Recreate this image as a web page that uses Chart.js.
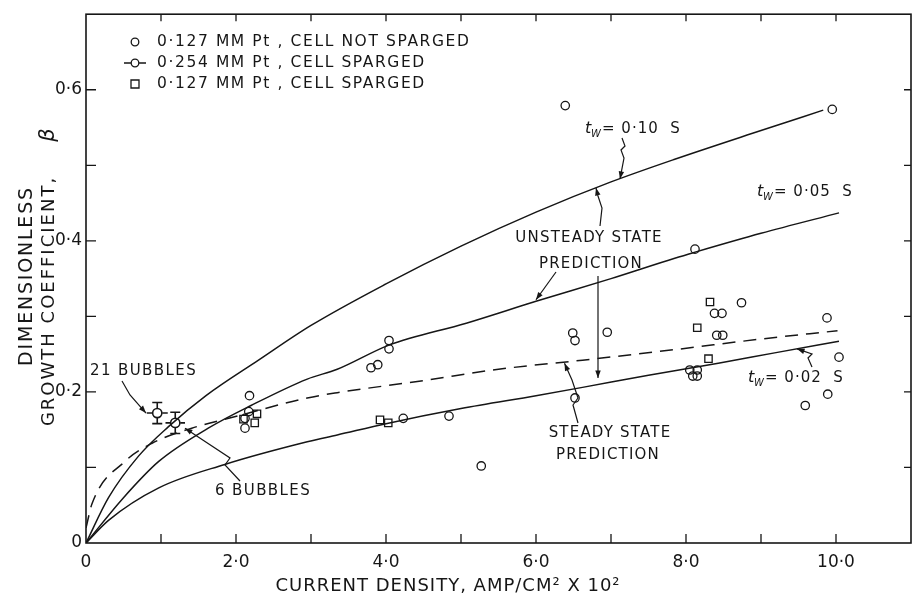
<!DOCTYPE html>
<html lang="en">
<head>
<meta charset="UTF-8">
<title>Growth coefficient vs current density</title>
<script src="https://cdn.jsdelivr.net/npm/chart.js"></script>
<style>
  html, body { margin: 0; padding: 0; background: #fff; }
</style>
</head>
<body>
<canvas id="grafico" width="920" height="600"></canvas>
<script>
// ---- measured points ----
// 0.127 mm Pt, cell not sparged (open circles)
const notSpargedX = [2.18, 2.12, 2.12, 2.17, 3.80, 3.89, 4.04, 4.04, 4.23, 4.84, 5.27,
                     6.39, 6.52, 6.49, 6.52, 6.95, 8.12, 8.05, 8.15, 8.09, 8.15,
                     8.38, 8.48, 8.41, 8.49, 8.74, 9.88, 10.04, 9.89, 9.59, 9.95];
const notSpargedY = [0.195, 0.165, 0.152, 0.174, 0.232, 0.236, 0.268, 0.257, 0.165, 0.168, 0.102,
                     0.579, 0.192, 0.278, 0.268, 0.279, 0.389, 0.229, 0.229, 0.221, 0.221,
                     0.304, 0.304, 0.275, 0.275, 0.318, 0.298, 0.246, 0.197, 0.182, 0.574];

// 0.254 mm Pt, cell sparged (circles with error bars)
const bubblesX    = [0.95, 1.19];
const bubblesY    = [0.172, 0.159];
const bubblesErrX = [0.14, 0.13];
const bubblesErrY = [0.014, 0.014];

// 0.127 mm Pt, cell sparged (open squares)
const spargedX = [2.10, 2.28, 2.25, 3.92, 4.03, 8.32, 8.15, 8.30];
const spargedY = [0.164, 0.171, 0.159, 0.163, 0.159, 0.319, 0.285, 0.244];

// ---- prediction curves ----
const curve10X = [0, 0.3, 0.7, 1.1, 1.6, 2.3, 3.0, 4.0, 5.0, 6.0, 7.0, 7.85, 9.0, 9.83];
const curve10Y = [0, 0.06, 0.115, 0.154, 0.195, 0.242, 0.288, 0.343, 0.393, 0.438, 0.478, 0.508, 0.546, 0.573];

const curve05X = [0, 0.5, 0.97, 1.63, 2.2, 2.95, 3.35, 4.04, 5.07, 6.0, 7.0, 7.85, 8.12, 9.0, 10.04];
const curve05Y = [0, 0.06, 0.108, 0.152, 0.182, 0.217, 0.23, 0.262, 0.291, 0.32, 0.35, 0.377, 0.385, 0.41, 0.437];

const curve02X = [0, 0.3, 0.97, 1.85, 2.95, 3.35, 4.0, 5.0, 6.0, 6.62, 7.5, 8.43, 9.2, 10.04];
const curve02Y = [0, 0.03, 0.073, 0.104, 0.134, 0.143, 0.158, 0.178, 0.195, 0.206, 0.222, 0.238, 0.252, 0.267];

const steadyX = [0, 0.08, 0.52, 0.88, 1.41, 1.98, 2.95, 3.35, 4.5, 5.5, 6.62, 7.85, 9.0, 10.02];
const steadyY = [0.02, 0.052, 0.108, 0.132, 0.152, 0.167, 0.192, 0.199, 0.215, 0.23, 0.242, 0.256, 0.27, 0.281];

// ---- axes ----
const xTickValues = [0, 2, 4, 6, 8, 10];
const xTickText   = ['0', '2·0', '4·0', '6·0', '8·0', '10·0'];
const yTickValues = [0, 0.2, 0.4, 0.6];
const yTickText   = ['0', '0·2', '0·4', '0·6'];

const INK = '#161616';
const FONT = '"DejaVu Sans", sans-serif';

const pts = (xs, ys) => xs.map((x, i) => ({ x: x, y: ys[i] }));

function curve(xs, ys, dash) {
  return {
    data: pts(xs, ys), showLine: true, pointRadius: 0, borderColor: INK,
    borderWidth: 1.5, borderDash: dash || [], cubicInterpolationMode: 'monotone', fill: false
  };
}

function labelFor(values, texts) {
  return v => {
    const i = values.findIndex(t => Math.abs(t - v) < 1e-6);
    return i >= 0 ? texts[i] : '';
  };
}

// text with letter spacing
function spaced(ctx, text, x, y, sp) {
  ctx.letterSpacing = (sp || 0) + 'px';
  ctx.fillText(text, x, y);
  ctx.letterSpacing = '0px';
}

function arrowHead(ctx, x, y, ang, size) {
  ctx.beginPath();
  ctx.moveTo(x, y);
  ctx.lineTo(x - size * Math.cos(ang - 0.35), y - size * Math.sin(ang - 0.35));
  ctx.lineTo(x - size * Math.cos(ang + 0.35), y - size * Math.sin(ang + 0.35));
  ctx.closePath();
  ctx.fill();
}

// t_W = value S
function twLabel(ctx, x, y, value) {
  ctx.font = 'italic 16px ' + FONT;
  ctx.fillText('t', x, y);
  ctx.font = 'italic 10px ' + FONT;
  ctx.fillText('W', x + 6, y + 4);
  ctx.font = '15px ' + FONT;
  spaced(ctx, '= ' + value + '  S', x + 17, y, 1);
}

// frame, inward ticks, error bars, titles and notes
const decorations = {
  id: 'decorations',
  afterDatasetsDraw(chart) {
    const { ctx, chartArea: a, scales: { x, y } } = chart;
    const X = v => x.getPixelForValue(v);
    const Y = v => y.getPixelForValue(v);
    ctx.save();
    ctx.strokeStyle = INK;
    ctx.fillStyle = INK;

    // frame
    ctx.lineWidth = 1.6;
    ctx.strokeRect(a.left, a.top, a.right - a.left, a.bottom - a.top);

    // inward ticks
    ctx.lineWidth = 1.3;
    ctx.beginPath();
    for (let v = 1; v <= 10; v++) {
      ctx.moveTo(X(v), a.bottom); ctx.lineTo(X(v), a.bottom - 9);
      ctx.moveTo(X(v), a.top);    ctx.lineTo(X(v), a.top + 7);
    }
    for (let k = 1; k <= 6; k++) {
      const v = k / 10;
      ctx.moveTo(a.left, Y(v));  ctx.lineTo(a.left + 10, Y(v));
      ctx.moveTo(a.right, Y(v)); ctx.lineTo(a.right - 7, Y(v));
    }
    ctx.stroke();

    // error bars
    ctx.lineWidth = 1.6;
    bubblesX.forEach((bx, i) => {
      const by = bubblesY[i];
      const cx = X(bx), cy = Y(by);
      const x0 = X(bx - bubblesErrX[i]), x1 = X(bx + bubblesErrX[i]);
      const y0 = Y(by - bubblesErrY[i]), y1 = Y(by + bubblesErrY[i]);
      ctx.beginPath();
      ctx.moveTo(x0, cy); ctx.lineTo(cx - 5, cy);
      ctx.moveTo(cx + 5, cy); ctx.lineTo(x1, cy);
      ctx.moveTo(cx, y1); ctx.lineTo(cx, cy - 5);
      ctx.moveTo(cx, cy + 5); ctx.lineTo(cx, y0);
      ctx.moveTo(cx - 5, y1); ctx.lineTo(cx + 5, y1);
      ctx.moveTo(cx - 5, y0); ctx.lineTo(cx + 5, y0);
      ctx.stroke();
    });

    // legend
    ctx.font = '15.5px ' + FONT;
    ctx.textBaseline = 'middle';
    ctx.lineWidth = 1.3;
    const legendRows = [
      ['circle', '0·127 MM Pt , CELL NOT SPARGED'],
      ['bar',    '0·254 MM Pt , CELL SPARGED'],
      ['square', '0·127 MM Pt , CELL SPARGED']
    ];
    legendRows.forEach((row, i) => {
      const ly = 42 + i * 21, lx = 135;
      ctx.beginPath();
      if (row[0] === 'square') ctx.rect(lx - 4, ly - 4, 8, 8);
      else ctx.arc(lx, ly, 3.8, 0, Math.PI * 2);
      if (row[0] === 'bar') {
        ctx.moveTo(lx - 11, ly); ctx.lineTo(lx - 4, ly);
        ctx.moveTo(lx + 4, ly); ctx.lineTo(lx + 11, ly);
      }
      ctx.stroke();
      spaced(ctx, row[1], 157, ly, 1.6);
    });

    // axis titles
    ctx.textAlign = 'center';
    ctx.font = '18px ' + FONT;
    spaced(ctx, 'CURRENT DENSITY, AMP/CM² X 10²', 448, 586, 1);
    ctx.save();
    ctx.translate(27, 276);
    ctx.rotate(-Math.PI / 2);
    ctx.font = '19px ' + FONT;
    spaced(ctx, 'DIMENSIONLESS', 0, 0, 1.8);
    ctx.restore();
    ctx.save();
    ctx.translate(49, 285);
    ctx.rotate(-Math.PI / 2);
    ctx.font = '18px ' + FONT;
    spaced(ctx, 'GROWTH COEFFICIENT,', -16, 0, 2);
    ctx.font = 'italic 21px ' + FONT;
    ctx.fillText('β', 150, 0);
    ctx.restore();

    // curve notes
    ctx.textAlign = 'left';
    ctx.textBaseline = 'alphabetic';
    ctx.lineWidth = 1.2;
    twLabel(ctx, 585, 133, '0·10');
    twLabel(ctx, 757, 196, '0·05');
    twLabel(ctx, 748, 382, '0·02');

    ctx.font = '15px ' + FONT;
    ctx.textAlign = 'center';
    spaced(ctx, 'UNSTEADY STATE', 589, 242, 1.2);
    spaced(ctx, 'PREDICTION', 591, 268, 1.2);
    spaced(ctx, 'STEADY STATE', 610, 437, 1.2);
    spaced(ctx, 'PREDICTION', 608, 459, 1.2);
    ctx.textAlign = 'left';
    spaced(ctx, '21 BUBBLES', 90, 375, 1.4);
    spaced(ctx, '6 BUBBLES', 215, 495, 1.4);

    // arrows
    const arrow = (pts) => {
      ctx.beginPath();
      ctx.moveTo(pts[0][0], pts[0][1]);
      for (let i = 1; i < pts.length; i++) ctx.lineTo(pts[i][0], pts[i][1]);
      ctx.stroke();
      const e = pts[pts.length - 1], p = pts[pts.length - 2];
      arrowHead(ctx, e[0], e[1], Math.atan2(e[1] - p[1], e[0] - p[0]), 8);
    };
    // t_W notes
    arrow([[622, 138], [625, 146], [621, 150], [624, 158], [X(7.12), Y(0.482)]]);
    arrow([[812, 367], [808, 358], [812, 354], [X(9.48), Y(0.257)]]);
    // unsteady state
    arrow([[600, 226], [602, 208], [598, 196], [X(6.8), Y(0.47)]]);
    arrow([[556, 272], [X(6.0), Y(0.322)]]);
    arrow([[598, 276], [598, 330], [598, 378]]);
    // steady state
    arrow([[578, 423], [573, 405], [578, 398], [572, 380], [X(6.38), Y(0.238)]]);
    // bubbles
    arrow([[122, 381], [130, 395], [X(0.8), Y(0.172)]]);
    arrow([[240, 481], [225, 465], [230, 458], [X(1.32), Y(0.152)]]);

    ctx.restore();
  }
};

new Chart(document.getElementById('grafico'), {
  type: 'scatter',
  data: {
    datasets: [
      curve(curve10X, curve10Y),
      curve(curve05X, curve05Y),
      curve(curve02X, curve02Y),
      curve(steadyX, steadyY, [13, 8]),
      {
        data: pts(notSpargedX, notSpargedY), pointStyle: 'circle', pointRadius: 4.2,
        borderColor: INK, borderWidth: 1.3, backgroundColor: 'rgba(0,0,0,0)'
      },
      {
        data: pts(spargedX, spargedY), pointStyle: 'rect', pointRadius: 5.2,
        borderColor: INK, borderWidth: 1.3, backgroundColor: 'rgba(0,0,0,0)'
      },
      {
        data: pts(bubblesX, bubblesY), pointStyle: 'circle', pointRadius: 4.6,
        borderColor: INK, borderWidth: 1.6, backgroundColor: 'rgba(0,0,0,0)'
      }
    ]
  },
  options: {
    responsive: false,
    animation: false,
    devicePixelRatio: 1,
    layout: { padding: { top: 6, right: 1, left: 0, bottom: 0 } },
    plugins: { legend: { display: false }, tooltip: { enabled: false } },
    scales: {
      x: {
        type: 'linear', min: 0, max: 11,
        afterFit: s => { s.height = 57; },
        grid: { display: false, drawTicks: false },
        border: { display: false },
        ticks: {
          stepSize: 1, autoSkip: false, maxRotation: 0, padding: 9,
          color: INK, font: { family: FONT, size: 17 },
          callback: labelFor(xTickValues, xTickText)
        }
      },
      y: {
        type: 'linear', min: 0, max: 0.7,
        afterFit: s => { s.width = 86; },
        grid: { display: false, drawTicks: false },
        border: { display: false },
        ticks: {
          stepSize: 0.1, autoSkip: false, padding: 4,
          color: INK, font: { family: FONT, size: 17 },
          callback: labelFor(yTickValues, yTickText)
        }
      }
    }
  },
  plugins: [decorations]
});
</script>
</body>
</html>
